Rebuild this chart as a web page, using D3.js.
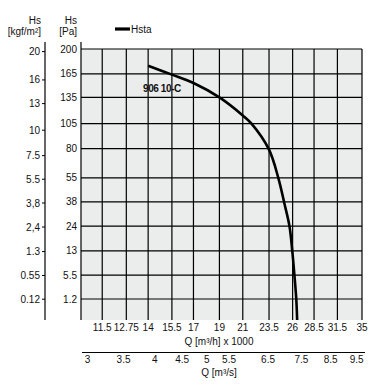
<!DOCTYPE html>
<html><head><meta charset="utf-8">
<script src="https://cdn.jsdelivr.net/npm/d3@7"></script>
<style>
html,body{margin:0;padding:0;background:#fff;}
svg{display:block;font-family:"Liberation Sans",Arial,sans-serif;}
</style></head>
<body>
<svg id="chart" width="380" height="389"></svg>
<script>
// ---- data ----
const qTicks = [11.5, 12.75, 14, 15.5, 17, 19, 21, 23.5, 26, 28.5, 31.5, 35];          // Q [m³/h] x 1000
const qsTicks = [3, 3.5, 4, 4.5, 5, 5.5, 6.5, 7.5, 8.5, 9.5];                          // Q [m³/s]
const paTicks = [1.2, 5.5, 13, 24, 38, 55, 80, 105, 135, 165, 200];                    // Hs [Pa]
const kgfTicks = [0.12, 0.55, 1.3, 2.4, 3.8, 5.5, 7.5, 10, 13, 16, 20];                // Hs [kgf/m²]
const kgfLabels = ["0.12", "0.55", "1.3", "2,4", "3,8", "5.5", "7.5", "10", "13", "16", "20"];
const curveQ = [14, 15.5, 17, 19, 21, 21.8, 23.5, 24.45, 25.1, 25.65, 25.96, 26.2, 26.41, 26.51];
const curveP = [176, 164, 153, 135, 114, 105, 79, 55, 37, 24, 13, 5.5, 1.2, 0];
const seriesName = "Hsta";
const curveLabel = "906 10-C";

// ---- drawing ----
const svg = d3.select("#chart");
const x = d3.scaleLog().domain([10.5, 35]).range([81, 362]);
const y = d3.scaleSqrt().domain([0, 200]).range([320, 49]);
const yK = d3.scaleSqrt().domain([0, 200 / 9.81]).range([320, 49]);
const xs = v => x(v * 3.6);
const txt = "#111";

// plot background
svg.append("rect").attr("x", x.range()[0]).attr("y", y(200))
  .attr("width", x.range()[1] - x.range()[0]).attr("height", y(0) - y(200))
  .attr("fill", "#ebecec");

const grid = svg.append("g").attr("stroke", "#000").attr("stroke-width", 1.2);
grid.selectAll("line.v").data(qTicks).join("line").attr("class", "v")
  .attr("x1", d => x(d)).attr("x2", d => x(d)).attr("y1", y(200)).attr("y2", y(0));
grid.selectAll("line.h").data(paTicks).join("line").attr("class", "h")
  .attr("x1", x.range()[0]).attr("x2", x.range()[1]).attr("y1", d => y(d)).attr("y2", d => y(d));

// Pa axis (left border of plot)
svg.append("line").attr("x1", x.range()[0]).attr("x2", x.range()[0])
  .attr("y1", 42).attr("y2", y(0)).attr("stroke", "#000").attr("stroke-width", 1.2);
svg.append("g").selectAll("text").data(paTicks).join("text")
  .attr("x", 77).attr("y", d => y(d)).attr("dy", "0.35em")
  .attr("text-anchor", "end").attr("font-size", 10).attr("fill", txt)
  .text(d => d);

// kgf axis
svg.append("line").attr("x1", 45).attr("x2", 45)
  .attr("y1", 42).attr("y2", y(0)).attr("stroke", "#000").attr("stroke-width", 1.2);
svg.append("g").selectAll("line").data(kgfTicks).join("line")
  .attr("x1", 42).attr("x2", 45).attr("y1", d => yK(d)).attr("y2", d => yK(d))
  .attr("stroke", "#000").attr("stroke-width", 1);
svg.append("g").selectAll("text").data(kgfTicks).join("text")
  .attr("x", 40).attr("y", d => yK(d)).attr("dy", "0.35em")
  .attr("text-anchor", "end").attr("font-size", 10).attr("fill", txt)
  .text((d, i) => kgfLabels[i]);

// axis headers
const hdr = [[41, "Hs", 24], [41, "[kgf/m²]", 35], [77, "Hs", 24], [77, "[Pa]", 35]];
svg.append("g").selectAll("text").data(hdr).join("text")
  .attr("x", d => d[0]).attr("y", d => d[2]).attr("text-anchor", "end")
  .attr("font-size", 10).attr("fill", txt).text(d => d[1]);

// x labels m³/h
svg.append("g").selectAll("text").data(qTicks).join("text")
  .attr("x", d => x(d)).attr("y", 331).attr("text-anchor", "middle")
  .attr("font-size", 10).attr("fill", txt).text(d => d);
svg.append("text").attr("x", 219).attr("y", 344.5).attr("text-anchor", "middle")
  .attr("font-size", 10).attr("fill", txt).text("Q [m³/h] x 1000");

// m³/s axis
svg.append("line").attr("x1", x.range()[0] + 1).attr("x2", x.range()[1] + 3)
  .attr("y1", 352.5).attr("y2", 352.5).attr("stroke", "#000").attr("stroke-width", 1.2);
svg.append("g").selectAll("text").data(qsTicks).join("text")
  .attr("x", d => xs(d)).attr("y", 363).attr("text-anchor", "middle")
  .attr("font-size", 10).attr("fill", txt).text(d => d);
svg.append("text").attr("x", 219).attr("y", 375.5).attr("text-anchor", "middle")
  .attr("font-size", 10).attr("fill", txt).text("Q [m³/s]");

// curve
const pts = curveQ.map((q, i) => [q, curveP[i]]);
const line = d3.line().x(d => x(d[0])).y(d => y(d[1])).curve(d3.curveCatmullRom.alpha(0.5));
svg.append("path").datum(pts).attr("d", line).attr("fill", "none")
  .attr("stroke", "#000").attr("stroke-width", 2.6);
svg.append("text").attr("x", 143).attr("y", 91.5).attr("font-size", 10)
  .attr("font-weight", "bold").attr("letter-spacing", -0.4).attr("fill", txt).text(curveLabel);

// legend
svg.append("line").attr("x1", 115).attr("x2", 130).attr("y1", 29).attr("y2", 29)
  .attr("stroke", "#000").attr("stroke-width", 3.2);
svg.append("text").attr("x", 131).attr("y", 32.5).attr("font-size", 10)
  .attr("fill", txt).text(seriesName);
</script>
</body></html>
